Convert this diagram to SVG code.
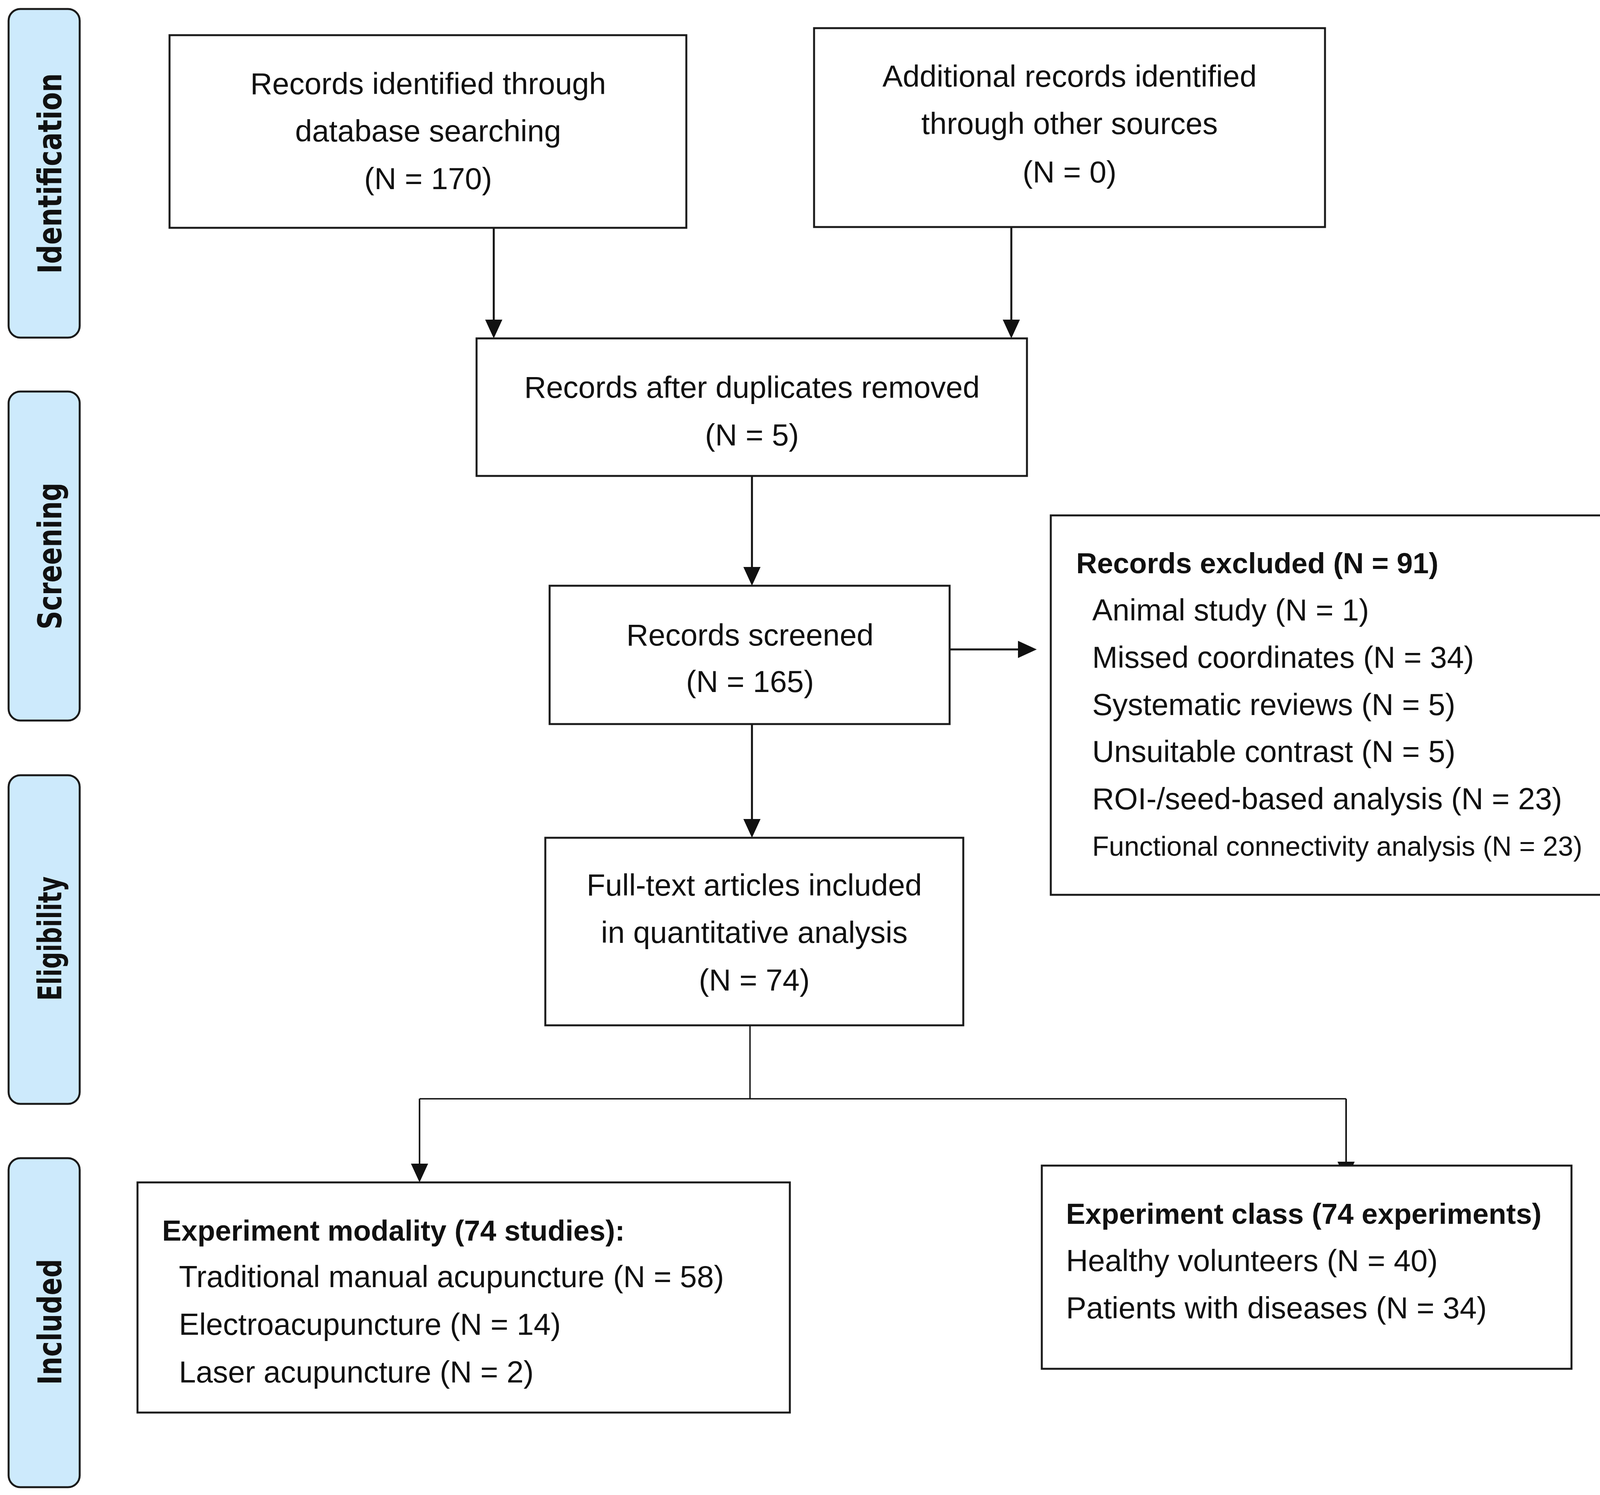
<svg xmlns="http://www.w3.org/2000/svg" width="4327" height="3826" viewBox="0 0 4327 3826">
<defs>
<marker id="ah" markerUnits="userSpaceOnUse" markerWidth="48" markerHeight="44" refX="38" refY="22" orient="auto" viewBox="0 0 48 44">
<path d="M0,0 L48,22 L0,44 Z" fill="#111"/>
</marker>
</defs>
<style>
.box{fill:#fff;stroke:#1a1a1a;stroke-width:5}
.lab{fill:#cdeafc;stroke:#1a1a1a;stroke-width:5}
.t{font-family:"Liberation Sans",Arial,sans-serif;font-size:78px;fill:#111}
.c{text-anchor:middle}
.b{font-weight:bold;font-size:74px}
.lt{font-family:"DejaVu Sans",Verdana,sans-serif;font-weight:bold;font-size:84px;fill:#111;text-anchor:middle}
.ar{fill:none;stroke:#111;stroke-width:5;marker-end:url(#ah)}
.ln{fill:none;stroke:#111;stroke-width:3.5}
</style>
<rect width="4327" height="3826" fill="#fff"/>

<g id="connectors">
<path class="ar" d="M1264,583 V856"/>
<path class="ar" d="M2589,581 V856"/>
<path class="ar" d="M1925,1218 V1489"/>
<path class="ar" d="M2431,1662 H2644"/>
<path class="ar" d="M1925,1853 V2134"/>
<path class="ln" d="M1920,2624 V2812 M1074,2812 H3446"/>
<path class="ar" style="stroke-width:4" d="M1074,2812 V3016"/>
<path class="ar" style="stroke-width:4" d="M3446,2812 V3011"/>
</g>

<g id="label-identification">
<rect class="lab" x="22" y="23" width="182" height="841" rx="30"/>
<text class="lt" transform="translate(157,444) rotate(-90)" textLength="513" lengthAdjust="spacingAndGlyphs">Identification</text>
</g>
<g id="label-screening">
<rect class="lab" x="22" y="1002" width="182" height="842" rx="30"/>
<text class="lt" transform="translate(157,1423) rotate(-90)" textLength="376" lengthAdjust="spacingAndGlyphs">Screening</text>
</g>
<g id="label-eligibility">
<rect class="lab" x="22" y="1984" width="182" height="841" rx="30"/>
<text class="lt" transform="translate(157,2402) rotate(-90)" textLength="318" lengthAdjust="spacingAndGlyphs">Eligibility</text>
</g>
<g id="label-included">
<rect class="lab" x="22" y="2964" width="182" height="842" rx="30"/>
<text class="lt" transform="translate(157,3383) rotate(-90)" textLength="322" lengthAdjust="spacingAndGlyphs">Included</text>
</g>

<g id="node-db">
<rect class="box" x="434" y="90" width="1323" height="493"/>
<text class="t c" x="1096" y="241">Records identified through</text>
<text class="t c" x="1096" y="362">database searching</text>
<text class="t c" x="1096" y="484">(N = 170)</text>
</g>
<g id="node-other">
<rect class="box" x="2084" y="72" width="1308" height="509"/>
<text class="t c" x="2738" y="222">Additional records identified</text>
<text class="t c" x="2738" y="343">through other sources</text>
<text class="t c" x="2738" y="467">(N = 0)</text>
</g>
<g id="node-dup">
<rect class="box" x="1220" y="866" width="1409" height="352"/>
<text class="t c" x="1925" y="1018">Records after duplicates removed</text>
<text class="t c" x="1925" y="1140">(N = 5)</text>
</g>
<g id="node-screened">
<rect class="box" x="1407" y="1499" width="1024" height="354"/>
<text class="t c" x="1920" y="1652">Records screened</text>
<text class="t c" x="1920" y="1771">(N = 165)</text>
</g>
<g id="node-excluded">
<rect class="box" x="2690" y="1319" width="1584" height="971"/>
<text class="t b" x="2755" y="1467">Records excluded (N = 91)</text>
<text class="t" x="2796" y="1588">Animal study (N = 1)</text>
<text class="t" x="2796" y="1709">Missed coordinates (N = 34)</text>
<text class="t" x="2796" y="1830">Systematic reviews (N = 5)</text>
<text class="t" x="2796" y="1950">Unsuitable contrast (N = 5)</text>
<text class="t" x="2796" y="2071">ROI-/seed-based analysis (N = 23)</text>
<text class="t" x="2796" y="2190" style="font-size:70px">Functional connectivity analysis (N = 23)</text>
</g>
<g id="node-fulltext">
<rect class="box" x="1396" y="2144" width="1070" height="480"/>
<text class="t c" x="1931" y="2292">Full-text articles included</text>
<text class="t c" x="1931" y="2413">in quantitative analysis</text>
<text class="t c" x="1931" y="2535">(N = 74)</text>
</g>
<g id="node-modality">
<rect class="box" x="352" y="3026" width="1670" height="589"/>
<text class="t b" x="415" y="3175">Experiment modality (74 studies):</text>
<text class="t" x="458" y="3294">Traditional manual acupuncture (N = 58)</text>
<text class="t" x="458" y="3416">Electroacupuncture (N = 14)</text>
<text class="t" x="458" y="3538">Laser acupuncture (N = 2)</text>
</g>
<g id="node-class">
<rect class="box" x="2667" y="2983" width="1356" height="520"/>
<text class="t b" x="2729" y="3132">Experiment class (74 experiments)</text>
<text class="t" x="2729" y="3253">Healthy volunteers (N = 40)</text>
<text class="t" x="2729" y="3374">Patients with diseases (N = 34)</text>
</g>
</svg>
